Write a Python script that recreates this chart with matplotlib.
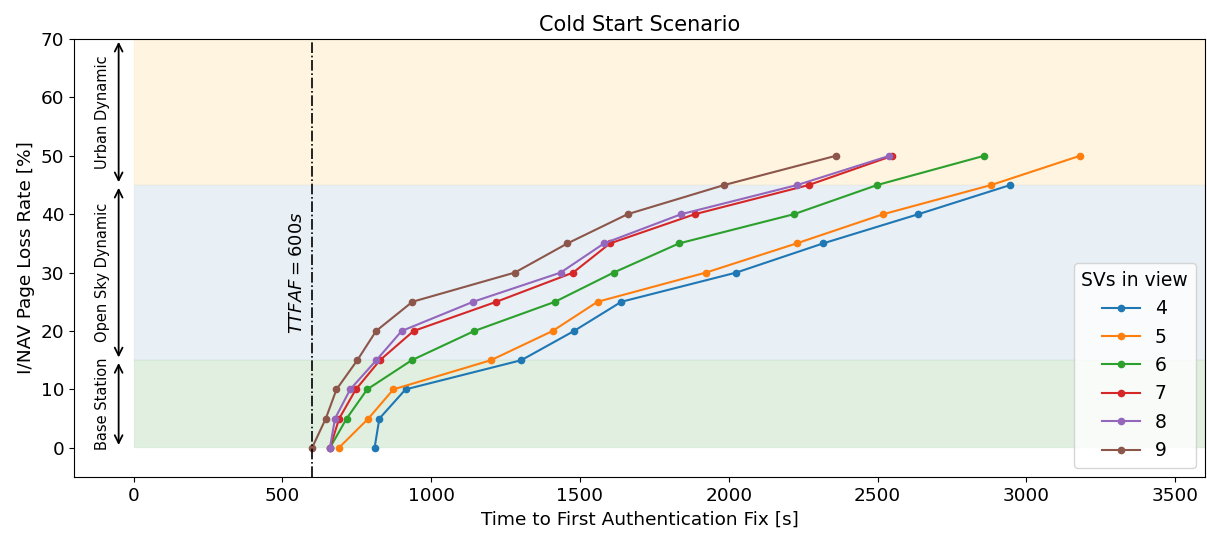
import matplotlib
matplotlib.use('Agg')
import matplotlib.pyplot as plt

# Page loss rate levels [%]
loss = [0, 5, 10, 15, 20, 25, 30, 35, 40, 45, 50]

# TTFAF [s] per number of SVs in view
ttfaf_4 = [810, 826, 914, 1303, 1480, 1639, 2025, 2317, 2637, 2946]
ttfaf_5 = [690, 789, 873, 1201, 1408, 1559, 1923, 2228, 2519, 2882, 3180]
ttfaf_6 = [660, 716, 785, 935, 1145, 1416, 1613, 1833, 2219, 2499, 2858]
ttfaf_7 = [660, 691, 747, 828, 941, 1219, 1477, 1601, 1886, 2269, 2550]
ttfaf_8 = [660, 677, 728, 816, 901, 1141, 1435, 1581, 1840, 2230, 2540]
ttfaf_9 = [600, 646, 682, 752, 815, 937, 1281, 1458, 1660, 1985, 2360]

series = {'4': ttfaf_4, '5': ttfaf_5, '6': ttfaf_6,
          '7': ttfaf_7, '8': ttfaf_8, '9': ttfaf_9}

zones = [('Base Station', 0, 15, 'green'),
         ('Open Sky Dynamic', 15, 45, 'steelblue'),
         ('Urban Dynamic', 45, 70, 'orange')]

fig, ax = plt.subplots(figsize=(12.07, 5.38), dpi=100)
fig.subplots_adjust(left=0.0613, right=0.9983, top=0.9275, bottom=0.1134)

for name, lo, hi, col in zones:
    ax.fill_between([0, 3600], lo, hi, color=col, alpha=0.12, lw=0.3)
    ax.annotate('', xy=(-50, lo), xytext=(-50, hi),
                arrowprops=dict(arrowstyle='<->', color='black', lw=1.3, mutation_scale=14))
    ax.text(-105, (lo + hi) / 2, name, rotation=90, ha='center', va='center', fontsize=10.5)

for sv, t in series.items():
    ax.plot(t, loss[:len(t)], marker='.', markersize=9, lw=1.5, label=sv)

ax.axvline(600, color='black', linestyle='-.', lw=1.2)
ax.text(548, 30, r'$TTFAF = 600s$', rotation=90, ha='center', va='center', fontsize=13)

ax.set_xlim(-200, 3600)
ax.set_ylim(-5, 70)
ax.set_title('Cold Start Scenario', fontsize=15)
ax.set_xlabel('Time to First Authentication Fix [s]', fontsize=13.3)
ax.set_ylabel('I/NAV Page Loss Rate [%]', fontsize=13.3)
ax.tick_params(labelsize=13.3)
ax.legend(title='SVs in view', loc='lower right', fontsize=13.5, title_fontsize=13.5)

plt.savefig('out.png', dpi=100)
